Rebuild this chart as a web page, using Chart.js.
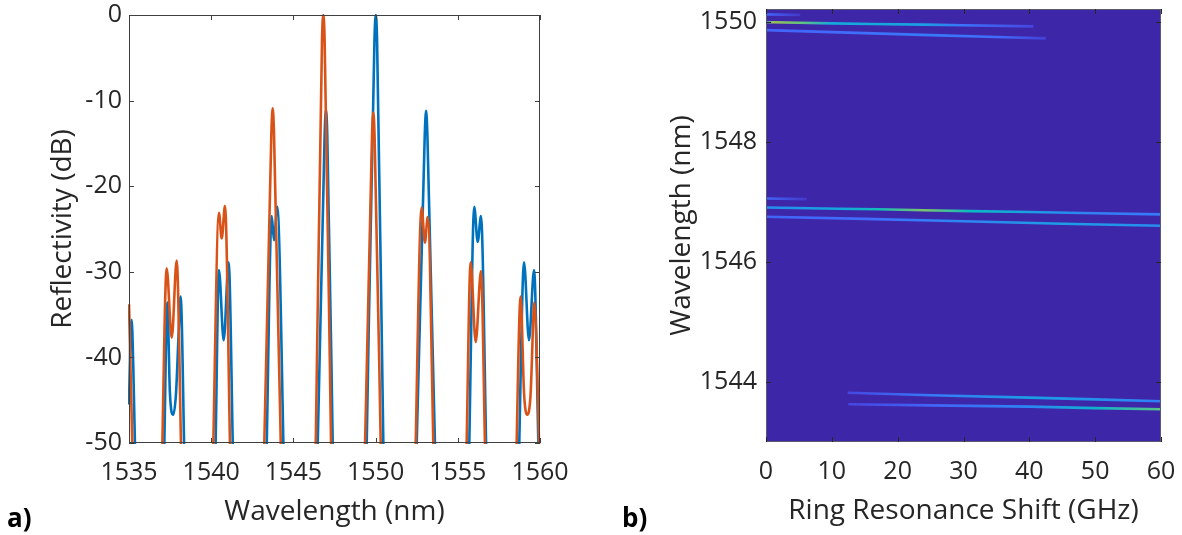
<!DOCTYPE html>
<html>
<head>
<meta charset="utf-8">
<script src="https://cdn.jsdelivr.net/npm/chart.js@4"></script>
<style>
  html, body { margin: 0; padding: 0; background: #fff; }
  body { width: 1182px; height: 535px; position: relative; overflow: hidden; font-family: 'Open Sans', sans-serif; }
  .panel { position: absolute; top: 0; height: 535px; }
  #left { left: 0; width: 595px; }
  #right { left: 595px; width: 587px; }
  .tag { position: absolute; font-weight: bold; font-size: 26px; color: #000; }
</style>
</head>
<body>
<div class="panel" id="left"><canvas id="chart-reflectivity"></canvas></div>
<div class="panel" id="right"><canvas id="chart-ring-shift"></canvas></div>
<div class="tag" style="left:7px; top:499px;">a)</div>
<div class="tag" style="left:622px; top:499px;">b)</div>
<script>
/* ===== DATA ===== */
// a) reflectivity spectra, wavelength (nm) / dB, values below -50 sit outside the axes
const blueWl = [1535.00, 1535.08, 1535.16, 1535.26, 1535.36, 1535.45,
  1537.06, 1537.15, 1537.33, 1537.49, 1537.69, 1537.86, 1538.02, 1538.14, 1538.35, 1538.44,
  1540.18, 1540.27, 1540.47, 1540.76, 1541.06, 1541.31, 1541.40,
  1543.29, 1543.38, 1543.68, 1543.82, 1544.02, 1544.39, 1544.48,
  1546.40, 1546.48, 1546.90, 1546.98, 1547.06, 1547.39, 1547.47,
  1549.37, 1549.46, 1549.93, 1550.01, 1550.09, 1550.47, 1550.56,
  1552.41, 1552.50, 1552.99, 1553.07, 1553.15, 1553.61, 1553.70,
  1555.61, 1555.70, 1556.00, 1556.21, 1556.41, 1556.72, 1556.81,
  1558.65, 1558.74, 1559.03, 1559.33, 1559.64, 1559.90, 1560.00];
const blueDb = [-45.5, -38.5, -35.6, -41.0, -50, -60,
  -60, -50, -33.6, -44.2, -46.7, -44.2, -37.2, -32.9, -50, -60,
  -60, -50, -29.8, -38.0, -28.9, -50, -60,
  -60, -50, -23.5, -26.3, -22.4, -50, -60,
  -60, -50, -14.0, -11.1, -14.0, -50, -60,
  -60, -50, -3.0, 0, -3.0, -50, -60,
  -60, -50, -14.0, -11.2, -14.0, -50, -60,
  -60, -50, -22.4, -26.5, -23.5, -50, -60,
  -60, -50, -28.9, -38.0, -29.8, -50, -58];
const orangeWl = [1535.00, 1535.10, 1535.20, 1535.28,
  1536.94, 1537.03, 1537.29, 1537.60, 1537.90, 1538.16, 1538.25,
  1540.04, 1540.13, 1540.47, 1540.64, 1540.84, 1541.14, 1541.23,
  1543.14, 1543.23, 1543.66, 1543.74, 1543.82, 1544.23, 1544.32,
  1546.27, 1546.36, 1546.74, 1546.82, 1546.90, 1547.29, 1547.38,
  1549.27, 1549.36, 1549.78, 1549.86, 1549.94, 1550.31, 1550.40,
  1552.35, 1552.44, 1552.80, 1553.00, 1553.17, 1553.51, 1553.60,
  1555.45, 1555.54, 1555.78, 1556.09, 1556.41, 1556.65, 1556.74,
  1558.49, 1558.58, 1558.82, 1559.03, 1559.22, 1559.43, 1559.59, 1559.64, 1559.94, 1560.00];
const orangeDb = [-33.8, -42.0, -50, -60,
  -60, -50, -29.6, -37.7, -28.7, -50, -60,
  -60, -50, -23.1, -26.1, -22.3, -50, -60,
  -60, -50, -13.8, -10.9, -13.8, -50, -60,
  -60, -50, -3.0, 0, -3.0, -50, -60,
  -60, -50, -14.3, -11.4, -14.3, -50, -60,
  -60, -50, -22.5, -26.6, -23.6, -50, -60,
  -60, -50, -28.9, -38.2, -29.9, -50, -60,
  -60, -50, -32.9, -44.2, -46.7, -44.2, -35.6, -33.6, -50, -56];

// b) resonance traces: shift (GHz), wavelength (nm), colour level 0..1
const traceShift = [
  [0, 5.2],
  [0, 1, 5, 10, 16, 24, 30, 40.6],
  [0, 10, 25, 35, 42.5],
  [0, 6.2],
  [0, 11, 17, 24, 31, 40, 50, 60],
  [0, 15, 30, 45, 60],
  [12.4, 25, 40, 50, 60],
  [12.5, 25, 40, 50, 60]
];
const traceWl = [
  [1550.13, 1550.12],
  [1550.00, 1550.00, 1549.99, 1549.98, 1549.97, 1549.96, 1549.95, 1549.93],
  [1549.867, 1549.834, 1549.785, 1549.752, 1549.73],
  [1547.06, 1547.05],
  [1546.91, 1546.89, 1546.88, 1546.865, 1546.85, 1546.835, 1546.815, 1546.795],
  [1546.755, 1546.72, 1546.68, 1546.64, 1546.605],
  [1543.82, 1543.78, 1543.74, 1543.71, 1543.68],
  [1543.63, 1543.61, 1543.59, 1543.565, 1543.545]
];
const traceLevel = [
  [0.18, 0.06],
  [0.3, 0.72, 0.66, 0.4, 0.4, 0.36, 0.22, 0.1],
  [0.18, 0.2, 0.24, 0.2, 0.08],
  [0.18, 0.06],
  [0.3, 0.4, 0.52, 0.68, 0.5, 0.36, 0.26, 0.24],
  [0.18, 0.2, 0.28, 0.36, 0.3],
  [0.1, 0.24, 0.36, 0.32, 0.26],
  [0.1, 0.18, 0.28, 0.46, 0.64]
];

/* ===== STYLE ===== */
const FONT = "'Open Sans', sans-serif";
const TXT = '#262626';
const PARULA = [[0,62,38,168],[0.1,70,70,225],[0.2,65,108,253],[0.3,40,140,240],[0.4,20,168,220],
  [0.5,10,185,195],[0.6,55,195,155],[0.7,140,195,95],[0.8,210,186,60],[0.9,250,200,45],[1,249,251,20]];
function parula(v) {
  v = Math.max(0, Math.min(1, v));
  for (let i = 1; i < PARULA.length; i++) {
    const a = PARULA[i-1], b = PARULA[i];
    if (v <= b[0]) {
      const f = (v - a[0]) / (b[0] - a[0]);
      return 'rgb(' + [1,2,3].map(k => Math.round(a[k] + f*(b[k]-a[k]))).join(',') + ')';
    }
  }
  return 'rgb(249,251,20)';
}

// MATLAB-ish box with inward ticks on all four sides
const boxTicks = {
  id: 'boxTicks',
  beforeDatasetsDraw(chart, args, opts) {
    if (!opts.fill) return;
    const a = chart.chartArea, ctx = chart.ctx;
    ctx.save(); ctx.fillStyle = opts.fill;
    ctx.fillRect(a.left, a.top, a.width, a.height);
    ctx.restore();
  },
  afterDatasetsDraw(chart, args, opts) {
    const {ctx, chartArea: a, scales: {x, y}} = chart;
    ctx.save();
    ctx.strokeStyle = opts.color || '#4a4a4a';
    ctx.lineWidth = 1;
    ctx.strokeRect(Math.round(a.left) + 0.5, Math.round(a.top) + 0.5, Math.round(a.width) - 1, Math.round(a.height) - 1);
    ctx.strokeStyle = opts.tickColor || ctx.strokeStyle;
    ctx.beginPath();
    x.ticks.forEach(t => {
      const px = Math.round(x.getPixelForValue(t.value)) + 0.5;
      ctx.moveTo(px, a.bottom); ctx.lineTo(px, a.bottom - 5);
      ctx.moveTo(px, a.top); ctx.lineTo(px, a.top + 5);
    });
    y.ticks.forEach(t => {
      const py = Math.round(y.getPixelForValue(t.value)) + 0.5;
      ctx.moveTo(a.left, py); ctx.lineTo(a.left + 5, py);
      ctx.moveTo(a.right, py); ctx.lineTo(a.right - 5, py);
    });
    ctx.stroke();
    ctx.restore();
  }
};

function axisOpts(extra) {
  return Object.assign({
    type: 'linear',
    grid: { display: false, drawTicks: false },
    border: { display: false },
    ticks: { color: TXT, font: { family: FONT, size: 25 }, callback: v => String(v) }
  }, extra);
}
const titleFont = { family: FONT, size: 28 };
// fixed axis boxes so the plot area lands where the layout padding puts it
const fitX = h => s => { s.height = h; s.paddingLeft = 0; s.paddingRight = 0; };
const fitY = w => s => { s.width = w; s.paddingTop = 0; s.paddingBottom = 0; };

/* ===== a) REFLECTIVITY ===== */
new Chart(document.getElementById('chart-reflectivity'), {
  type: 'line',
  data: {
    datasets: [
      { label: 'Port 2', data: orangeWl.map((w, i) => ({ x: w, y: orangeDb[i] })), borderColor: '#D95319',
        borderWidth: 2.6, pointRadius: 0, cubicInterpolationMode: 'monotone', order: 0, clip: 1 },
      { label: 'Port 1', data: blueWl.map((w, i) => ({ x: w, y: blueDb[i] })), borderColor: '#0072BD',
        borderWidth: 2.6, pointRadius: 0, cubicInterpolationMode: 'monotone', order: 1, clip: 1 }
    ]
  },
  options: {
    responsive: true, maintainAspectRatio: false, animation: false,
    layout: { padding: { left: 42, top: 15, right: 55, bottom: 2 } },
    plugins: { legend: { display: false }, tooltip: { enabled: false }, boxTicks: { color: '#404040' } },
    scales: {
      x: axisOpts({ min: 1535, max: 1560,
        ticks: { color: TXT, font: { family: FONT, size: 25 }, stepSize: 5, padding: 15, maxRotation: 0, callback: v => String(v) },
        title: { display: true, text: 'Wavelength (nm)', color: TXT, font: titleFont, padding: { top: 4, bottom: 4 } },
        afterFit: fitX(90) }),
      y: axisOpts({ min: -50, max: 0,
        ticks: { color: TXT, font: { family: FONT, size: 25 }, stepSize: 10, padding: 7, callback: v => String(v) },
        title: { display: true, text: 'Reflectivity (dB)', color: TXT, font: titleFont, padding: { top: 4, bottom: 4 } },
        afterFit: fitY(87) })
    }
  },
  plugins: [boxTicks]
});

/* ===== b) RING SHIFT MAP ===== */
function traceGradient(c) {
  const chart = c.chart, d = c.dataset && c.dataset.data;
  if (!chart.chartArea || !d) return parula(0.25);
  const xs = chart.scales.x;
  const x0 = xs.getPixelForValue(d[0].x), x1 = xs.getPixelForValue(d[d.length - 1].x);
  const g = chart.ctx.createLinearGradient(x0, 0, x1, 0);
  d.forEach(p => g.addColorStop(Math.max(0, Math.min(1, (xs.getPixelForValue(p.x) - x0) / (x1 - x0))), parula(p.v)));
  return g;
}
new Chart(document.getElementById('chart-ring-shift'), {
  type: 'line',
  data: {
    datasets: traceShift.map((xs, k) => ({
      data: xs.map((x, i) => ({ x, y: traceWl[k][i], v: traceLevel[k][i] })),
      borderColor: traceGradient, borderWidth: 2.6, pointRadius: 0, tension: 0, borderCapStyle: 'butt'
    }))
  },
  options: {
    responsive: true, maintainAspectRatio: false, animation: false,
    layout: { padding: { left: 66, top: 9, right: 21, bottom: 3 } },
    plugins: { legend: { display: false }, tooltip: { enabled: false },
      boxTicks: { fill: parula(0), color: '#5a5a70', tickColor: '#262626' } },
    scales: {
      x: axisOpts({ min: 0, max: 60,
        ticks: { color: TXT, font: { family: FONT, size: 25 }, stepSize: 10, padding: 15, maxRotation: 0, callback: v => String(v) },
        title: { display: true, text: 'Ring Resonance Shift (GHz)', color: TXT, font: titleFont, padding: { top: 4, bottom: 4 } },
        afterFit: fitX(90) }),
      y: axisOpts({ min: 1543, max: 1550.22,
        ticks: { color: TXT, font: { family: FONT, size: 25 }, stepSize: 2, includeBounds: false, padding: 9, callback: v => String(v) },
        title: { display: true, text: 'Wavelength (nm)', color: TXT, font: titleFont, padding: { top: 4, bottom: 4 } },
        afterFit: fitY(105) })
    }
  },
  plugins: [boxTicks]
});
</script>
</body>
</html>
